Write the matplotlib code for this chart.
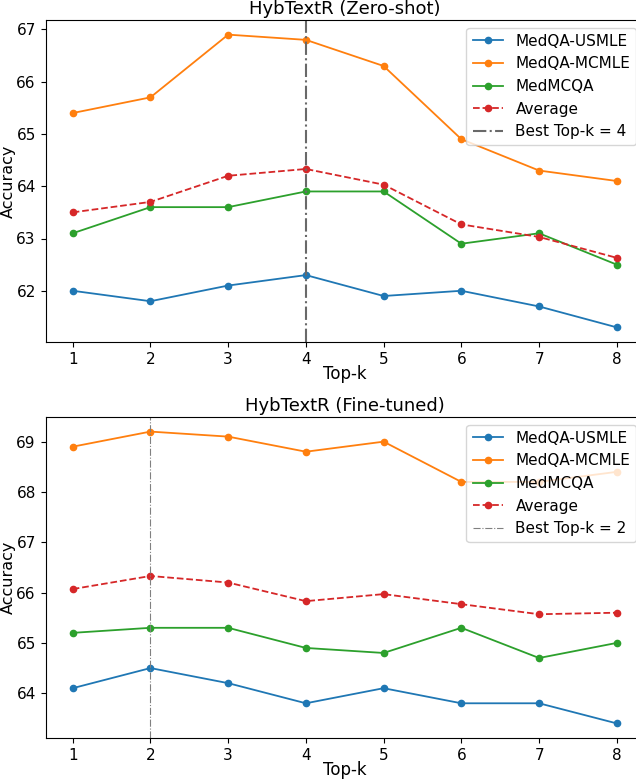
import matplotlib.pyplot as plt

top_k = [1, 2, 3, 4, 5, 6, 7, 8]

# Zero-shot
zs_usmle = [62.0, 61.8, 62.1, 62.3, 61.9, 62.0, 61.7, 61.3]
zs_mcmle = [65.4, 65.7, 66.9, 66.8, 66.3, 64.9, 64.3, 64.1]
zs_medmcqa = [63.1, 63.6, 63.6, 63.9, 63.9, 62.9, 63.1, 62.5]
zs_avg = [63.50, 63.70, 64.20, 64.33, 64.03, 63.27, 63.03, 62.63]
zs_best = 4

# Fine-tuned
ft_usmle = [64.1, 64.5, 64.2, 63.8, 64.1, 63.8, 63.8, 63.4]
ft_mcmle = [68.9, 69.2, 69.1, 68.8, 69.0, 68.2, 68.2, 68.4]
ft_medmcqa = [65.2, 65.3, 65.3, 64.9, 64.8, 65.3, 64.7, 65.0]
ft_avg = [66.07, 66.33, 66.20, 65.83, 65.97, 65.77, 65.57, 65.60]
ft_best = 2

W, H = 636, 780
fig = plt.figure(figsize=(W / 100, H / 100), dpi=100)

def px_axes(left, right, top, bottom):
    return fig.add_axes([left / W, 1 - bottom / H, (right - left) / W, (bottom - top) / H])

# the original figure is cropped on the right, so the axes run past the edge
ax1 = px_axes(45.5, 644, 20, 342)
ax2 = px_axes(45.5, 644, 417, 738)

def draw(ax, usmle, mcmle, medmcqa, avg, best, title, vlw, vcolor):
    ax.plot(top_k, usmle, marker='o', markersize=4.5, linewidth=1.3, label='MedQA-USMLE')
    ax.plot(top_k, mcmle, marker='o', markersize=4.5, linewidth=1.3, label='MedQA-MCMLE')
    ax.plot(top_k, medmcqa, marker='o', markersize=4.5, linewidth=1.3, label='MedMCQA')
    ax.plot(top_k, avg, marker='o', markersize=4.5, linewidth=1.3, linestyle='--',
            color='tab:red', label='Average')
    ax.axvline(best, color=vcolor, linestyle='-.', linewidth=vlw, label=f'Best Top-k = {best}')
    ax.set_title(title, fontsize=13, pad=4)
    ax.set_xlabel('Top-k', fontsize=12, labelpad=-1)
    ax.set_ylabel('Accuracy', fontsize=11.5, labelpad=0)
    ax.set_xticks(top_k)
    ax.tick_params(labelsize=11)
    ax.legend(loc='upper right', fontsize=11)

draw(ax1, zs_usmle, zs_mcmle, zs_medmcqa, zs_avg, zs_best, 'HybTextR (Zero-shot)', 1.5, 'dimgray')
draw(ax2, ft_usmle, ft_mcmle, ft_medmcqa, ft_avg, ft_best, 'HybTextR (Fine-tuned)', 0.8, 'gray')

fig.savefig('out.png', dpi=100)
